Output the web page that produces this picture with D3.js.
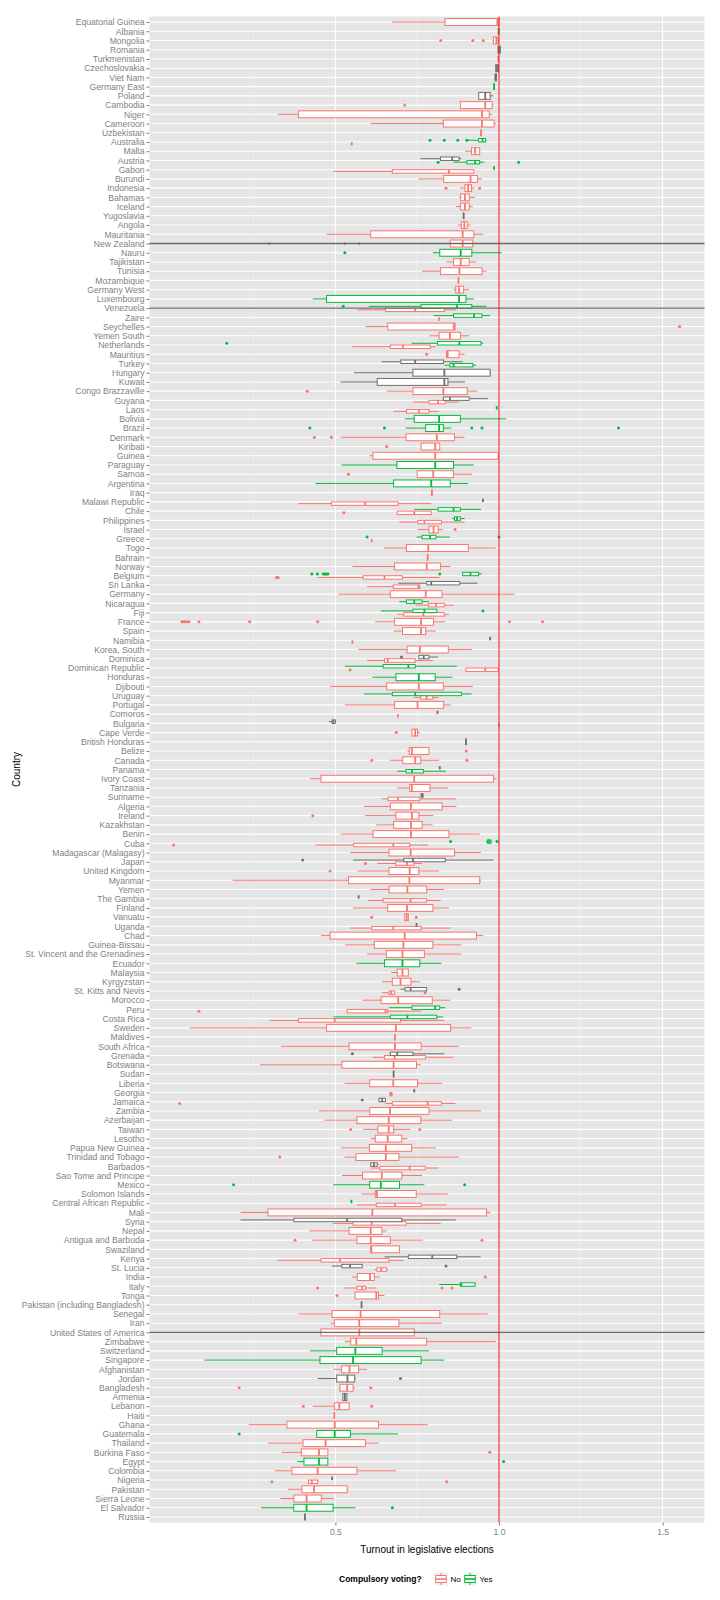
<!DOCTYPE html>
<html><head><meta charset="utf-8">
<script src="https://cdn.jsdelivr.net/npm/d3@7"></script>
<style>body{margin:0;background:#fff} svg{display:block} text{font-family:"Liberation Sans",Arial,sans-serif}</style>
</head><body><svg id="c" width="720" height="1600"></svg>
<script>
// Countries, top to bottom
const countries = ["Equatorial Guinea","Albania","Mongolia","Romania","Turkmenistan","Czechoslovakia","Viet Nam","Germany East","Poland","Cambodia","Niger","Cameroon","Uzbekistan","Australia","Malta","Austria","Gabon","Burundi","Indonesia","Bahamas","Iceland","Yugoslavia","Angola","Mauritania","New Zealand","Nauru","Tajikistan","Tunisia","Mozambique","Germany West","Luxembourg","Venezuela","Zaire","Seychelles","Yemen South","Netherlands","Mauritius","Turkey","Hungary","Kuwait","Congo Brazzaville","Guyana","Laos","Bolivia","Brazil","Denmark","Kiribati","Guinea","Paraguay","Samoa","Argentina","Iraq","Malawi Republic","Chile","Philippines","Israel","Greece","Togo","Bahrain","Norway","Belgium","Sri Lanka","Germany","Nicaragua","Fiji","France","Spain","Namibia","Korea, South","Dominica","Dominican Republic","Honduras","Djibouti","Uruguay","Portugal","Comoros","Bulgaria","Cape Verde","British Honduras","Belize","Canada","Panama","Ivory Coast","Tanzania","Suriname","Algeria","Ireland","Kazakhstan","Benin","Cuba","Madagascar (Malagasy)","Japan","United Kingdom","Myanmar","Yemen","The Gambia","Finland","Vanuatu","Uganda","Chad","Guinea-Bissau","St. Vincent and the Grenadines","Ecuador","Malaysia","Kyrgyzstan","St. Kitts and Nevis","Morocco","Peru","Costa Rica","Sweden","Maldives","South Africa","Grenada","Botswana","Sudan","Liberia","Georgia","Jamaica","Zambia","Azerbaijan","Taiwan","Lesotho","Papua New Guinea","Trinidad and Tobago","Barbados","Sao Tome and Principe","Mexico","Solomon Islands","Central African Republic","Mali","Syria","Nepal","Antigua and Barbuda","Swaziland","Kenya","St. Lucia","India","Italy","Tonga","Pakistan (including Bangladesh)","Senegal","Iran","United States of America","Zimbabwe","Switzerland","Singapore","Afghanistan","Jordan","Bangladesh","Armenia","Lebanon","Haiti","Ghana","Guatemala","Thailand","Burkina Faso","Egypt","Colombia","Nigeria","Pakistan","Sierra Leone","El Salvador","Russia"];

// [country, whiskerLow, q1, median, q3, whiskerHigh, outliers]
const boxesNo = [
["Equatorial Guinea",.674,.835,.995,1.0,1.0,[]],
["Mongolia",.98,.983,.992,.997,1.0,[.822,.92,.952]],
["Turkmenistan",.998,.998,.998,.998,.998,[]],
["Cambodia",.882,.882,.958,.979,.983,[.712]],
["Niger",.324,.387,.948,.970,.979,[]],
["Cameroon",.608,.83,.948,.985,.99,[]],
["Uzbekistan",.945,.945,.945,.945,.945,[]],
["Australia",.55,.55,.55,.55,.55,[]],
["Malta",.896,.916,.927,.941,.941,[]],
["Gabon",.495,.674,.847,.923,.923,[]],
["Burundi",.754,.831,.913,.934,.948,[]],
["Indonesia",.88,.896,.906,.916,.925,[.838,.941]],
["Bahamas",.878,.883,.896,.909,.927,[]],
["Iceland",.868,.882,.896,.909,.92,[]],
["Angola",.874,.885,.894,.903,.913,[]],
["Mauritania",.473,.608,.889,.923,.952,[]],
["New Zealand",.851,.851,.889,.92,.92,[.298,.529,.573]],
["Tajikistan",.84,.861,.883,.909,.93,[]],
["Tunisia",.765,.821,.879,.948,.962,[]],
["Mozambique",.876,.876,.876,.876,.876,[]],
["Germany West",.861,.868,.878,.892,.909,[]],
["Venezuela",.566,.653,.744,.833,.87,[]],
["Zaire",.817,.817,.817,.817,.817,[]],
["Seychelles",.592,.66,.862,.866,.866,[1.552]],
["Yemen South",.787,.817,.85,.882,.909,[]],
["Netherlands",.552,.668,.706,.79,.807,[]],
["Mauritius",.84,.84,.843,.878,.895,[.779]],
["Congo Brazzaville",.657,.737,.83,.903,.934,[.414]],
["Guyana",.737,.786,.814,.836,.878,[]],
["Laos",.678,.717,.755,.786,.817,[]],
["Denmark",.516,.716,.81,.864,.895,[.436,.488]],
["Kiribati",.762,.762,.805,.819,.819,[.657]],
["Guinea",.604,.615,.805,.997,.997,[]],
["Samoa",.75,.75,.799,.861,.917,[.54]],
["Iraq",.795,.795,.795,.795,.795,[]],
["Malawi Republic",.387,.488,.591,.692,.793,[]],
["Chile",.689,.689,.741,.793,.793,[.526]],
["Philippines",.695,.752,.772,.824,.895,[]],
["Israel",.751,.786,.8,.814,.828,[.866]],
["Greece",.611,.611,.611,.611,.611,[]],
["Togo",.649,.717,.784,.906,.99,[]],
["Bahrain",.782,.782,.782,.782,.782,[]],
["Norway",.552,.681,.779,.821,.852,[]],
["Belgium",.445,.585,.65,.705,.819,[.32,.325]],
["Sri Lanka",.597,.677,.754,.758,.758,[]],
["Germany",.509,.668,.776,.826,1.049,[]],
["Nicaragua",.746,.784,.807,.833,.861,[]],
["Fiji",.69,.709,.769,.833,.847,[]],
["France",.622,.681,.762,.80,.836,[.031,.038,.045,.052,.083,.238,.446,1.032,1.133]],
["Spain",.678,.705,.762,.776,.807,[]],
["Namibia",.552,.552,.552,.552,.552,[]],
["Korea, South",.571,.719,.758,.845,.917,[]],
["Dominica",.597,.65,.66,.744,.798,[]],
["Dominican Republic",.899,.899,.958,.997,.997,[.545]],
["Djibouti",.484,.657,.755,.83,.92,[]],
["Uruguay",.741,.761,.779,.798,.815,[]],
["Portugal",.529,.681,.751,.831,.854,[]],
["Comoros",.691,.691,.691,.691,.691,[]],
["Bulgaria",1.0,1.0,1.0,1.0,1.0,[]],
["Cape Verde",.734,.734,.744,.751,.758,[.686]],
["Belize",.72,.726,.734,.786,.786,[.9]],
["Canada",.667,.706,.744,.761,.817,[.611,.902]],
["Ivory Coast",.422,.456,.741,.983,.993,[]],
["Tanzania",.689,.727,.734,.789,.845,[]],
["Suriname",.641,.661,.691,.758,.868,[]],
["Algeria",.587,.668,.731,.826,.87,[]],
["Ireland",.59,.685,.734,.755,.8,[.431]],
["Kazakhstan",.625,.678,.731,.765,.797,[]],
["Benin",.516,.615,.731,.847,.941,[]],
["Cuba",.439,.556,.677,.727,.784,[.006]],
["Madagascar (Malagasy)",.545,.664,.73,.864,.945,[]],
["Japan",.628,.684,.719,.74,.765,[.592]],
["United Kingdom",.568,.664,.727,.755,.817,[.484]],
["Myanmar",.186,.54,.726,.941,.945,[]],
["Yemen",.607,.664,.72,.779,.833,[]],
["The Gambia",.6,.646,.73,.779,.822,[]],
["Finland",.554,.66,.719,.798,.847,[]],
["Vanuatu",.712,.712,.718,.723,.723,[.611,.747]],
["Uganda",.545,.611,.677,.762,.852,[]],
["Chad",.456,.484,.712,.931,.952,[]],
["Guinea-Bissau",.53,.619,.708,.798,.885,[]],
["St. Vincent and the Grenadines",.597,.656,.705,.772,.885,[]],
["Malaysia",.67,.689,.705,.723,.723,[]],
["Kyrgyzstan",.643,.674,.699,.731,.758,[]],
["St. Kitts and Nevis",.643,.664,.671,.681,.681,[.774]],
["Morocco",.583,.64,.692,.796,.85,[]],
["Peru",.536,.536,.653,.66,.762,[.083]],
["Costa Rica",.301,.387,.498,.699,.833,[]],
["Sweden",.055,.473,.685,.852,.916,[]],
["Maldives",.682,.682,.682,.682,.682,[]],
["South Africa",.334,.542,.682,.762,.878,[]],
["Grenada",.614,.65,.681,.775,.86,[]],
["Botswana",.269,.52,.678,.748,.761,[]],
["Liberia",.528,.605,.677,.751,.826,[]],
["Georgia",.665,.667,.67,.673,.675,[]],
["Jamaica",.653,.674,.782,.824,.867,[.024]],
["Zambia",.45,.605,.667,.786,.945,[]],
["Azerbaijan",.467,.566,.663,.761,.857,[]],
["Taiwan",.585,.63,.663,.678,.73,[.547,.758]],
["Lesotho",.608,.622,.66,.703,.72,[]],
["Papua New Guinea",.516,.604,.654,.733,.807,[]],
["Trinidad and Tobago",.528,.563,.654,.694,.878,[.33]],
["Barbados",.608,.636,.727,.775,.815,[]],
["Sao Tome and Principe",.52,.583,.642,.703,.765,[]],
["Solomon Islands",.58,.622,.627,.747,.843,[]],
["Central African Republic",.566,.625,.682,.762,.84,[]],
["Mali",.21,.294,.613,.962,.973,[]],
["Syria",.493,.554,.611,.716,.822,[]],
["Nepal",.421,.542,.608,.642,.657,[]],
["Antigua and Barbuda",.428,.566,.608,.668,.768,[.377,.948]],
["Swaziland",.606,.608,.61,.696,.696,[]],
["Kenya",.322,.456,.514,.664,.709,[]],
["St. Lucia",.62,.627,.64,.657,.66,[]],
["India",.55,.567,.606,.619,.637,[.958]],
["Italy",.528,.566,.582,.592,.625,[.446,.826,.857]],
["Tonga",.56,.56,.625,.632,.65,[.505]],
["Senegal",.387,.49,.577,.819,.966,[]],
["Iran",.485,.497,.573,.694,.825,[]],
["United States of America",.45,.456,.573,.741,.75,[]],
["Zimbabwe",.529,.547,.564,.779,.99,[]],
["Afghanistan",.494,.519,.543,.571,.597,[]],
["Bangladesh",.51,.514,.536,.554,.56,[.206,.608]],
["Lebanon",.431,.497,.512,.542,.542,[.402,.611]],
["Haiti",.497,.497,.497,.497,.497,[]],
["Ghana",.235,.352,.498,.632,.782,[]],
["Thailand",.293,.401,.47,.592,.632,[]],
["Burkina Faso",.336,.396,.45,.477,.477,[.972]],
["Colombia",.315,.367,.446,.566,.686,[]],
["Nigeria",.418,.418,.428,.446,.446,[.306,.84]],
["Pakistan",.355,.398,.435,.536,.54,[]],
["Sierra Leone",.332,.373,.412,.457,.495,[]]
];

const boxesYes = [
["Germany East",.985,.985,.985,.985,.985,[]],
["Australia",.906,.938,.95,.959,.962,[.789,.833,.874,.902]],
["Austria",.861,.902,.927,.941,.955,[.814,1.06]],
["Gabon",.985,.985,.985,.985,.985,[]],
["Nauru",.798,.819,.883,.917,1.008,[.529]],
["Luxembourg",.431,.473,.878,.899,.923,[]],
["Venezuela",.602,.762,.872,.917,.962,[.524]],
["Zaire",.8,.861,.924,.948,.973,[]],
["Netherlands",.733,.812,.879,.945,.952,[.168]],
["Turkey",.833,.85,.861,.92,.93,[]],
["Laos",.993,.993,.993,.993,.993,[]],
["Bolivia",.712,.741,.817,.882,1.022,[]],
["Brazil",.715,.776,.817,.83,.854,[.422,.65,.917,.948,1.365]],
["Paraguay",.519,.688,.805,.861,.923,[]],
["Argentina",.439,.678,.793,.851,.906,[]],
["Chile",.741,.814,.861,.882,.945,[]],
["Philippines",.857,.864,.872,.882,.895,[]],
["Greece",.748,.765,.789,.807,.85,[.597,1.0]],
["Belgium",.889,.889,.913,.938,.948,[.428,.445,.463,.468,.472,.477,.819]],
["Nicaragua",.695,.717,.741,.765,.786,[]],
["Fiji",.639,.737,.772,.81,.81,[.951]],
["Dominican Republic",.529,.646,.723,.744,.871,[]],
["Honduras",.613,.685,.755,.805,.858,[]],
["Uruguay",.587,.674,.744,.885,.916,[]],
["Panama",.689,.716,.734,.769,.838,[]],
["Cuba",.96,.965,.97,.975,.98,[.852,.994]],
["Ecuador",.564,.65,.705,.758,.824,[]],
["Peru",.664,.734,.805,.819,.836,[]],
["Costa Rica",.494,.668,.72,.81,.829,[]],
["Mexico",.493,.605,.639,.696,.772,[.189,.895]],
["Central African Republic",.549,.549,.549,.549,.549,[]],
["Italy",.817,.882,.885,.927,.927,[]],
["Switzerland",.422,.504,.561,.643,.786,[]],
["Singapore",.1,.453,.554,.762,.833,[]],
["Guatemala",.443,.443,.498,.546,.691,[.206]],
["Egypt",.384,.404,.45,.477,.477,[1.014]],
["El Salvador",.273,.373,.412,.493,.561,[.674]]
];

const boxesNA = [
["Albania",.999,.999,.999,.999,.999,[]],
["Romania",.997,.997,1.0,1.004,1.004,[]],
["Czechoslovakia",.99,.99,.994,.998,.998,[]],
["Viet Nam",.987,.988,.99,.992,.993,[]],
["Poland",.938,.938,.958,.973,.983,[]],
["Yugoslavia",.892,.892,.892,.892,.892,[]],
["Austria",.76,.821,.857,.878,.885,[]],
["Turkey",.641,.70,.744,.831,.889,[]],
["Hungary",.557,.737,.833,.973,.976,[]],
["Kuwait",.516,.628,.833,.844,.896,[]],
["Guyana",.83,.83,.85,.909,.966,[]],
["Malawi Republic",.951,.951,.951,.951,.951,[]],
["Sri Lanka",.692,.779,.793,.88,.934,[]],
["Namibia",.973,.973,.973,.973,.973,[]],
["Dominica",.755,.755,.77,.786,.814,[.702]],
["Comoros",.812,.812,.812,.812,.812,[]],
["Bulgaria",.48,.49,.494,.5,.5,[]],
["British Honduras",.899,.899,.899,.899,.899,[]],
["Panama",.819,.819,.819,.819,.819,[]],
["Suriname",.762,.762,.765,.768,.768,[]],
["Japan",.554,.709,.737,.836,.983,[.4]],
["The Gambia",.571,.571,.571,.571,.571,[]],
["Uganda",.748,.748,.748,.748,.748,[]],
["St. Kitts and Nevis",.699,.713,.73,.779,.779,[.878]],
["Grenada",.668,.668,.689,.737,.833,[.552]],
["Sudan",.678,.678,.678,.678,.678,[]],
["Georgia",.741,.741,.741,.741,.741,[]],
["Jamaica",.633,.633,.643,.653,.653,[.582]],
["Barbados",.608,.608,.618,.628,.632,[]],
["Syria",.21,.373,.536,.703,.868,[]],
["Kenya",.65,.723,.796,.871,.944,[]],
["St. Lucia",.49,.52,.545,.582,.582,[.838]],
["Pakistan (including Bangladesh)",.58,.58,.58,.58,.58,[]],
["Jordan",.446,.504,.537,.559,.563,[.699]],
["Armenia",.523,.523,.529,.535,.535,[]],
["Nigeria",.49,.49,.49,.49,.49,[]],
["Russia",.407,.407,.407,.407,.407,[]]
];

const hlineCountries = ["New Zealand","Venezuela","United States of America"];
const xTicks = [0.5, 1.0, 1.5];
const xMinorTicks = [0.25, 0.75, 1.25];
const referenceTurnout = 1.0;
const xDomain = [-0.068, 1.628];
const legendLabels = ["No","Yes"];

const groupColors = ["#F8766D", "#00BA38", "#6E6E6E"]; // No, Yes, NA

const svg = d3.select("#c");
const P = {left:149.5, right:704.5, top:16.5, bottom:1522.5};

const x = d3.scaleLinear().domain(xDomain).range([P.left, P.right]);
const y = d3.scalePoint().domain(countries).range([P.top, P.bottom]).padding(0.6);
const step = y.step();
const boxW = step * 0.75;

// panel
svg.append("rect").attr("x",P.left).attr("y",P.top).attr("width",P.right-P.left).attr("height",P.bottom-P.top).attr("fill","#E5E5E5");
const grid = svg.append("g");
xMinorTicks.forEach(t=>grid.append("line").attr("x1",x(t)).attr("x2",x(t)).attr("y1",P.top).attr("y2",P.bottom).attr("stroke","#F2F2F2").attr("stroke-width",0.6));
xTicks.forEach(t=>grid.append("line").attr("x1",x(t)).attr("x2",x(t)).attr("y1",P.top).attr("y2",P.bottom).attr("stroke","#FFFFFF").attr("stroke-width",1.1));
countries.forEach(c=>grid.append("line").attr("x1",P.left).attr("x2",P.right).attr("y1",y(c)).attr("y2",y(c)).attr("stroke","#FFFFFF").attr("stroke-width",1.1));

// assemble boxes with dodge
const all = [];
[boxesNo, boxesYes, boxesNA].forEach((arr, gi)=>arr.forEach(r=>all.push({c:r[0],lo:r[1],q1:r[2],med:r[3],q3:r[4],hi:r[5],out:r[6],g:gi})));
const byCountry = d3.group(all, d=>d.c);
byCountry.forEach((list)=>{
  list.sort((a,b)=>a.g-b.g);
  const n = list.length, w = boxW/n;
  list.forEach((d,i)=>{ d.cy = y(d.c) + boxW/2 - (i+0.5)*w; d.h = w; });
});

const gb = svg.append("g");
all.forEach(d=>{
  const col = groupColors[d.g];
  const g = gb.append("g");
  g.append("line").attr("x1",x(d.lo)).attr("x2",x(d.q1)).attr("y1",d.cy).attr("y2",d.cy).attr("stroke",col).attr("stroke-width",1);
  g.append("line").attr("x1",x(d.q3)).attr("x2",x(d.hi)).attr("y1",d.cy).attr("y2",d.cy).attr("stroke",col).attr("stroke-width",1);
  g.append("rect").attr("x",x(d.q1)).attr("y",d.cy-d.h/2).attr("width",Math.max(0,x(d.q3)-x(d.q1))).attr("height",d.h)
    .attr("fill","#FFFFFF").attr("stroke",col).attr("stroke-width",1);
  g.append("line").attr("x1",x(d.med)).attr("x2",x(d.med)).attr("y1",d.cy-d.h/2).attr("y2",d.cy+d.h/2).attr("stroke",col).attr("stroke-width",1.8);
  d.out.forEach(o=>g.append("circle").attr("cx",x(o)).attr("cy",d.cy).attr("r",1.5).attr("fill",col));
});

// horizontal reference lines
hlineCountries.forEach(c=>svg.append("line").attr("x1",P.left).attr("x2",P.right).attr("y1",y(c)).attr("y2",y(c)).attr("stroke","#6A6A6A").attr("stroke-width",1.3));
// vertical reference line
svg.append("line").attr("x1",x(referenceTurnout)).attr("x2",x(referenceTurnout)).attr("y1",P.top).attr("y2",P.bottom).attr("stroke","#E8251F").attr("stroke-width",1.1);

// axes
const ax = svg.append("g").attr("transform",`translate(${P.left},0)`).call(d3.axisLeft(y).tickSize(3).tickPadding(2));
ax.select(".domain").remove();
ax.selectAll(".tick line").attr("stroke","#7F7F7F");
ax.selectAll(".tick text").attr("fill","#7F7F7F").style("font-size","8.6px").style("font-family","'Liberation Sans',Arial,sans-serif");

const axb = svg.append("g").attr("transform",`translate(0,${P.bottom})`).call(d3.axisBottom(x).tickValues(xTicks).tickFormat(d3.format(".1f")).tickSize(3).tickPadding(3));
axb.select(".domain").remove();
axb.selectAll(".tick line").attr("stroke","#7F7F7F");
axb.selectAll(".tick text").attr("fill","#7F7F7F").style("font-size","8.6px").style("font-family","'Liberation Sans',Arial,sans-serif");

svg.append("text").attr("x",(P.left+P.right)/2).attr("y",1553).attr("text-anchor","middle").style("font-size","10px").attr("fill","#000").text("Turnout in legislative elections");
svg.append("text").attr("transform",`translate(20,${(P.top+P.bottom)/2}) rotate(-90)`).attr("text-anchor","middle").style("font-size","10px").attr("fill","#000").text("Country");

// legend
const lg = svg.append("g").attr("transform","translate(0,1579)");
lg.append("text").attr("x",339).attr("y",3).style("font-size","8.5px").style("font-weight","bold").attr("fill","#000").text("Compulsory voting?");
const keyS = 14;
const keyX = [434, 463];
legendLabels.forEach((lab,i)=>{
  const kx = keyX[i], ky = -keyS/2, col = groupColors[i];
  lg.append("rect").attr("x",kx).attr("y",ky).attr("width",keyS).attr("height",keyS).attr("fill","#F2F2F2").attr("stroke","#FFFFFF");
  lg.append("line").attr("x1",kx+keyS/2).attr("x2",kx+keyS/2).attr("y1",ky+1).attr("y2",ky+keyS-1).attr("stroke",col);
  lg.append("rect").attr("x",kx+keyS*0.125).attr("y",ky+keyS*0.25).attr("width",keyS*0.75).attr("height",keyS*0.5).attr("fill","#fff").attr("stroke",col);
  lg.append("line").attr("x1",kx+keyS*0.125).attr("x2",kx+keyS*0.875).attr("y1",0).attr("y2",0).attr("stroke",col).attr("stroke-width",1.6);
  lg.append("text").attr("x",kx+keyS+2.5).attr("y",3).style("font-size","8px").attr("fill","#000").text(lab);
});
</script>
</body></html>
